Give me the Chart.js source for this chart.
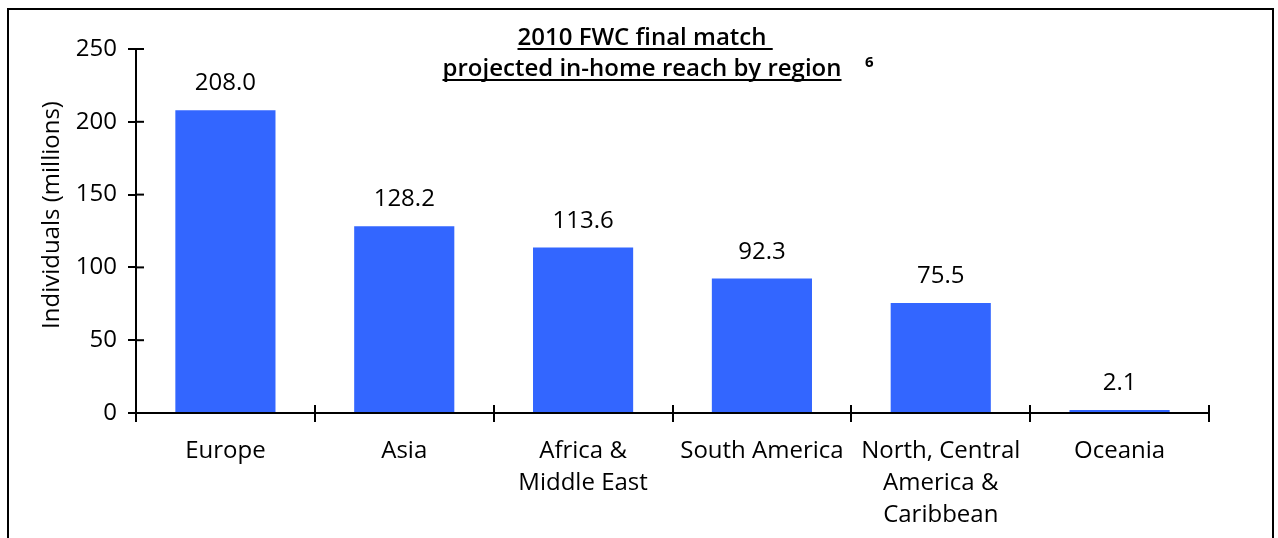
<!DOCTYPE html>
<html>
<head>
<meta charset="utf-8">
<script src="https://cdn.jsdelivr.net/npm/chart.js@4.4.1/dist/chart.umd.min.js"></script>
<style>
  html, body { margin: 0; padding: 0; background: #fff; }
  #wrap { width: 1278px; height: 538px; position: relative; }
</style>
</head>
<body>
<div id="wrap"><canvas id="c" width="1278" height="538"></canvas></div>
<script>
const categories = [
  "Europe",
  "Asia",
  ["Africa &", "Middle East"],
  "South America",
  ["North, Central", "America &", "Caribbean"],
  "Oceania"
];
const reachValues = [208.0, 128.2, 113.6, 92.3, 75.5, 2.1];
const valueLabels = ["208.0", "128.2", "113.6", "92.3", "75.5", "2.1"];
const titleLines = ["2010 FWC final match ", "projected in-home reach by region"];
const titleNote = "6";
const yAxisTitle = "Individuals (millions)";
const yMin = 0, yMax = 250, yStep = 50;

const FONT = '"Open Sans", "Noto Sans", sans-serif';
const FS = 24;

const decor = {
  id: 'decor',
  afterDraw(chart) {
    const ctx = chart.ctx;
    const xs = chart.scales.x, ys = chart.scales.y;
    ctx.save();
    // frame
    ctx.fillStyle = '#000';
    ctx.fillRect(7, 8, 2, 530);
    ctx.fillRect(7, 8, 1267, 2);
    ctx.fillRect(1272, 8, 2, 530);
    // inner tick halves
    ctx.strokeStyle = '#000';
    ctx.lineWidth = 2;
    const ax = ys.left + ys.width;
    ys.ticks.forEach((t, i) => {
      const y = ys.getPixelForTick(i);
      ctx.beginPath(); ctx.moveTo(ax, y); ctx.lineTo(ax + 8, y); ctx.stroke();
    });
    const n = categories.length;
    const cw = (xs.right - xs.left) / n;
    for (let i = 0; i <= n; i++) {
      const x = Math.round(xs.left + i * cw);
      ctx.beginPath(); ctx.moveTo(x, xs.top); ctx.lineTo(x, xs.top - 8); ctx.stroke();
    }
    // value labels
    ctx.fillStyle = '#000';
    ctx.font = FS + 'px ' + FONT;
    ctx.textAlign = 'center';
    ctx.textBaseline = 'alphabetic';
    const meta = chart.getDatasetMeta(0);
    meta.data.forEach((bar, i) => {
      ctx.fillText(valueLabels[i], bar.x, bar.y - 20);
    });
    // y axis title
    ctx.save();
    ctx.translate(52, 215);
    ctx.rotate(-Math.PI / 2);
    ctx.textBaseline = 'middle';
    ctx.fillText(yAxisTitle, 0, 0);
    ctx.restore();
    // chart title (underlined)
    ctx.font = '600 ' + FS + 'px ' + FONT;
    ctx.textAlign = 'left';
    const cx = 642;
    const baselines = [45, 76];
    titleLines.forEach((line, i) => {
      const w = ctx.measureText(line).width;
      const x0 = cx - ctx.measureText(line.trimEnd()).width / 2;
      ctx.fillText(line, x0, baselines[i]);
      ctx.fillRect(x0, baselines[i] + 3, w, 2);
    });
    ctx.font = 'bold 15px ' + FONT;
    ctx.fillText(titleNote, 865, 67);
    ctx.restore();
  }
};

new Chart(document.getElementById('c'), {
  type: 'bar',
  data: {
    labels: categories,
    datasets: [{
      data: reachValues,
      backgroundColor: '#3366FF',
      borderWidth: 0,
      barPercentage: 0.56,
      categoryPercentage: 1.0
    }]
  },
  options: {
    responsive: false,
    animation: false,
    devicePixelRatio: 1,
    layout: { padding: { left: 0, right: 69, top: 49, bottom: 0 } },
    plugins: { legend: { display: false }, tooltip: { enabled: false }, title: { display: false } },
    scales: {
      x: {
        grid: { display: true, drawOnChartArea: false, drawTicks: true, tickLength: 9, color: '#000', lineWidth: 2, offset: true },
        border: { display: true, color: '#000', width: 2 },
        ticks: { color: '#000', font: { family: FONT, size: FS, lineHeight: 32 / FS }, padding: 13, maxRotation: 0, autoSkip: false },
        afterFit(s) { s.height = 125; }
      },
      y: {
        min: yMin, max: yMax,
        grid: { display: true, drawOnChartArea: false, drawTicks: true, tickLength: 8, color: '#000', lineWidth: 2 },
        border: { display: true, color: '#000', width: 2 },
        ticks: { stepSize: yStep, color: '#000', font: { family: FONT, size: FS }, padding: 11 },
        afterFit(s) { s.width = 136; }
      }
    }
  },
  plugins: [decor]
});
</script>
</body>
</html>
